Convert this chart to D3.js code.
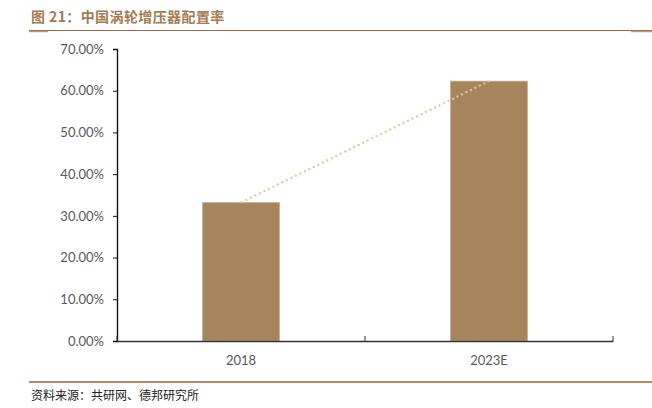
<!DOCTYPE html>
<html>
<head>
<meta charset="utf-8">
<script src="https://cdn.jsdelivr.net/npm/d3@7"></script>
<style>
  body { margin: 0; background: #fff; }
  svg { display: block; }
</style>
</head>
<body>
<svg width="652" height="408"></svg>
<script>
var years = ["2018", "2023E"];
var rates = [33.2, 62.3];
var yTicks = [0, 10, 20, 30, 40, 50, 60, 70];

var svg = d3.select("svg");
var plotLeft = 117, plotRight = 613, plotTop = 49, plotBottom = 341;

// header and footer
svg.append("text")
  .attr("x", 31).attr("y", 22)
  .attr("font-family", "Noto Sans CJK SC").attr("font-size", 14).attr("font-weight", "bold")
  .attr("letter-spacing", 0.4)
  .attr("fill", "#a57b52")
  .text("图 21：中国涡轮增压器配置率");
svg.append("line").attr("x1", 29).attr("x2", 652).attr("y1", 30.5).attr("y2", 30.5)
  .attr("stroke", "#a0683a").attr("stroke-width", 1);
svg.append("line").attr("x1", 29).attr("x2", 48).attr("y1", 31.5).attr("y2", 31.5)
  .attr("stroke", "#c09a78").attr("stroke-width", 1.5);
svg.append("line").attr("x1", 631).attr("x2", 652).attr("y1", 31.5).attr("y2", 31.5)
  .attr("stroke", "#c09a78").attr("stroke-width", 1.5);

svg.append("line").attr("x1", 29).attr("x2", 652).attr("y1", 382).attr("y2", 382)
  .attr("stroke", "#b08a68").attr("stroke-width", 2);
svg.append("text")
  .attr("x", 31).attr("y", 400)
  .attr("font-family", "Noto Sans CJK SC").attr("font-size", 12)
  .attr("fill", "#222")
  .text("资料来源：共研网、德邦研究所");

var x = d3.scaleBand().domain(years).range([plotLeft, plotRight]).paddingInner(0.69).paddingOuter(0.345);
var y = d3.scaleLinear().domain([0, 70]).range([plotBottom, plotTop]);

var g = svg.append("g");

g.selectAll(".bar")
  .data(years)
  .enter()
  .append("rect")
  .attr("class", "bar")
  .attr("x", function(d){ return x(d); })
  .attr("y", function(d, i){ return y(rates[i]); })
  .attr("width", x.bandwidth())
  .attr("height", function(d, i){ return y(0) - y(rates[i]); })
  .attr("fill", "#a6845c")
  .attr("stroke", "#c9b08f").attr("stroke-width", 0.8);

var line = d3.line()
  .x(function(d, i){ return x(years[i]) + x.bandwidth() / 2; })
  .y(function(d){ return y(d); });
g.append("path")
  .datum(rates)
  .attr("d", line)
  .attr("fill", "none")
  .attr("stroke", "#dcc8a4")
  .attr("stroke-width", 2.2)
  .attr("stroke-dasharray", "2,3");

// y axis
var yAxis = g.append("g")
  .attr("transform", "translate(" + plotLeft + ",0)")
  .call(d3.axisLeft(y).tickValues(yTicks).tickSize(4).tickSizeOuter(4)
    .tickFormat(function(d){ return d.toFixed(2) + "%"; }));
yAxis.select(".domain").attr("stroke", "#111").attr("stroke-width", 1.4);
yAxis.selectAll(".tick line").attr("stroke", "#111");
yAxis.selectAll("text").attr("font-family", "Lato").attr("font-size", 13).attr("fill", "#595959").attr("x", -13);

// x axis
var xAxis = g.append("g")
  .attr("transform", "translate(0," + plotBottom + ")")
  .call(d3.axisBottom(x).tickSize(0).tickSizeOuter(0));
xAxis.select(".domain").attr("stroke", "#333").attr("stroke-width", 1.5);
xAxis.selectAll("text").attr("font-family", "Lato").attr("font-size", 13).attr("fill", "#595959").attr("dy", "1.6em");

var bounds = [plotLeft, x(years[1]) - x.step() * x.paddingInner() / 2, plotRight];
xAxis.selectAll(".sep")
  .data(bounds)
  .enter()
  .append("line")
  .attr("class", "sep")
  .attr("x1", function(d){ return d; }).attr("x2", function(d){ return d; })
  .attr("y1", 0).attr("y2", -5)
  .attr("stroke", "#333");
</script>
</body>
</html>
